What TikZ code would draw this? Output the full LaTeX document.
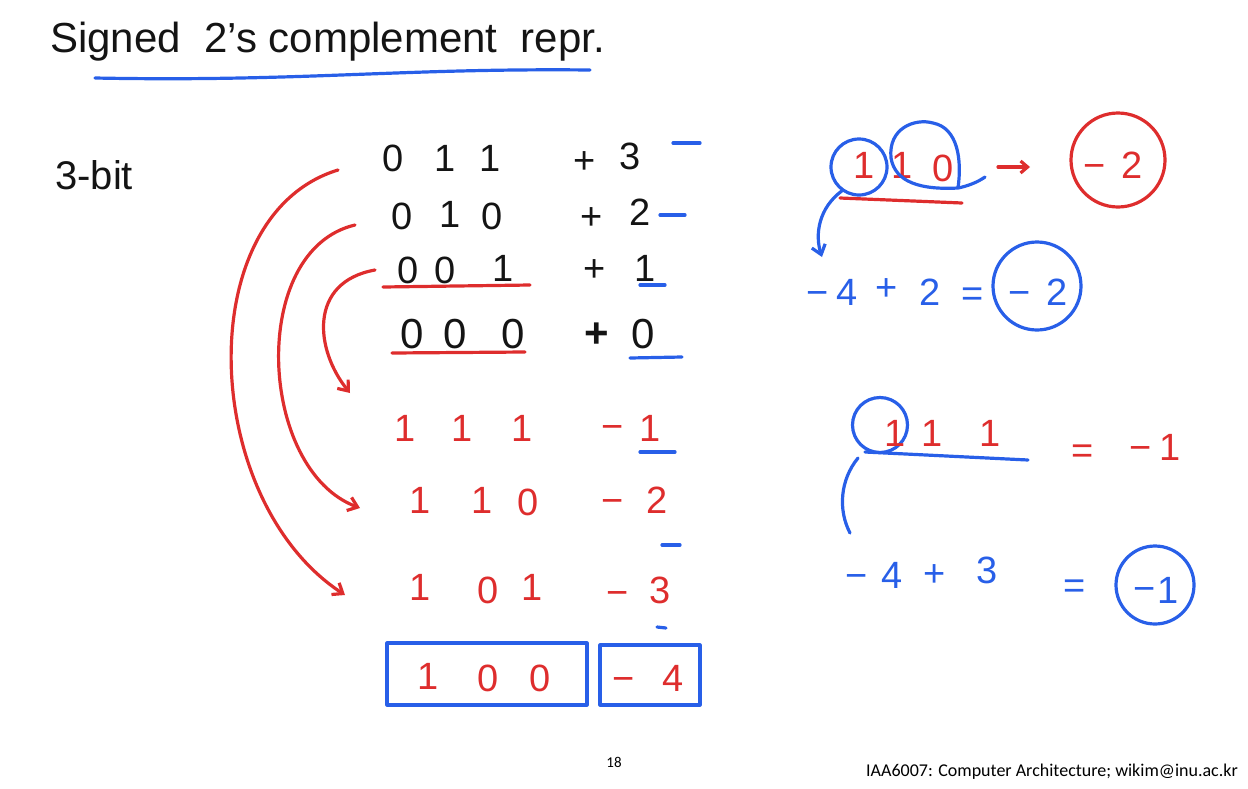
\documentclass[tikz,border=0pt]{standalone}
\usepackage{fontspec}
\setmainfont{Liberation Sans}
\newfontfamily\footfont{Carlito}
\usetikzlibrary{arrows.meta}
\definecolor{pen}{RGB}{20,20,20}
\definecolor{penred}{RGB}{222,45,45}
\definecolor{penblue}{RGB}{40,95,232}
\tikzset{
  hand/.style={line width=3.2pt, line cap=round, line join=round},
  glyph/.style={font=\fontsize{38}{38}\selectfont, inner sep=0pt, text height=27pt, text depth=0pt},
  bigglyph/.style={font=\fontsize{42}{42}\selectfont, inner sep=0pt, text height=30pt, text depth=0pt},
  bk/.style={glyph, text=pen},
  rd/.style={glyph, text=penred},
  bl/.style={glyph, text=penblue},
  ring/.style={hand, draw=penblue, circle, inner sep=0pt},
  tip/.style={-{Straight Barb[length=9pt,width=14pt]}},
}
\begin{document}
\begin{tikzpicture}[x=1pt,y=-1pt]
\useasboundingbox (0,0) rectangle (1248,788);
% title
\node[font=\fontsize{42}{42}\selectfont, text=pen, anchor=west, inner sep=0pt] (title) at (50,42) {Signed\ \ 2's complement\ \ repr.};
\draw[hand, penblue] (95,78) .. controls (300,82) and (400,68) .. (590,70);
\node[font=\fontsize{40}{40}\selectfont, text=pen, anchor=west, inner sep=0pt] (bits) at (55,175) {3-bit};
% black rows
\node[bk] (a1) at (393,158) {0}; \node[bk] (a2) at (445,158) {1}; \node[bk] (a3) at (490,158) {1};
\node[bk] (as) at (585,160) {+}; \node[bk] (av) at (630,156) {3};
\node[bk] (b1) at (402,216) {0}; \node[bk] (b2) at (450,214) {1}; \node[bk] (b3) at (492,216) {0};
\node[bk] (bs) at (592,216) {+}; \node[bk] (bv) at (640,212) {2};
\node[bk] (c1) at (408,270) {0}; \node[bk] (c2) at (445,270) {0}; \node[bk] (c3) at (503,268) {1};
\node[bk] (cs) at (595,268) {+}; \node[bk] (cv) at (645,268) {1};
\node[bk, bigglyph] (d1) at (412,333) {0}; \node[bk, bigglyph] (d2) at (455,333) {0}; \node[bk, bigglyph] (d3) at (513,333) {0};
\node[bk, bigglyph, font=\fontsize{42}{42}\selectfont\bfseries] (ds) at (597,332) {+}; \node[bk, bigglyph] (dv) at (643,333) {0};
% blue ticks and underlines
\draw[hand, penblue] (673,143) -- (700,143);
\draw[hand, penblue] (660,215) -- (685,215);
\draw[hand, penblue] (640,285) -- (665,285);
\draw[hand, penblue] (630,358) -- (682,357);
\draw[hand, penred] (383,287) -- (530,285);
\draw[hand, penred] (392,353) -- (525,352);
% red rows
\node[rd] (e1) at (405,428) {1}; \node[rd] (e2) at (462,428) {1}; \node[rd] (e3) at (522,428) {1};
\node[rd] (es) at (613,426) {−}; \node[rd] (ev) at (650,428) {1};
\node[rd] (f1) at (420,500) {1}; \node[rd] (f2) at (482,500) {1}; \node[rd] (f3) at (528,502) {0};
\node[rd] (fs) at (613,500) {−}; \node[rd] (fv) at (657,500) {2};
\node[rd] (g1) at (420,587) {1}; \node[rd] (g2) at (488,590) {0}; \node[rd] (g3) at (532,587) {1};
\node[rd] (gs) at (618,592) {−}; \node[rd] (gv) at (660,590) {3};
\draw[hand, penblue] (640,452) -- (675,452);
\draw[hand, penblue] (662,545) -- (680,545);
\draw[hand, penblue] (657,627) -- (666,628);
% boxed last row
\node[hand, draw=penblue, minimum width=200pt, minimum height=62pt, inner sep=0pt] (box1) at (487,674) {};
\node[rd] (h1) at (428,676) {1}; \node[rd] (h2) at (488,678) {0}; \node[rd] (h3) at (540,678) {0};
\node[hand, draw=penblue, minimum width=100pt, minimum height=60pt, inner sep=0pt] (box2) at (650,675) {};
\node[rd] (hs) at (624,678) {−}; \node[rd] (hv) at (673,678) {4};
% red curved arrows
\coordinate (s1) at (338,170); \coordinate (t1) at (345,595);
\coordinate (s2) at (355,225); \coordinate (t2) at (360,508);
\coordinate (s3) at (375,270); \coordinate (t3) at (350,393);
\draw[hand, penred, tip] (s1) .. controls (190,215) and (200,500) .. (t1);
\draw[hand, penred, tip] (s2) .. controls (248,250) and (258,470) .. (t2);
\draw[hand, penred, tip] (s3) .. controls (308,282) and (315,350) .. (t3);
% right top example
\node[ring, minimum size=56pt] (cA) at (859,167) {};
\node[rd] (p1) at (864,165) {1}; \node[rd] (p2) at (902,165) {1}; \node[rd] (p3) at (943,168) {0};
\draw[hand, penblue] (958,188) .. controls (920,190) and (895,182) .. (891,158) .. controls (888,128) and (915,118) .. (933,123) .. controls (958,128) and (962,160) .. (958,188) .. controls (968,186) and (978,182) .. (985,177);
\draw[hand, penred] (840,198) -- (962,203);
\coordinate (ar1) at (998,167); \coordinate (ar2) at (1030,167);
\draw[hand, penred, -{Straight Barb[length=7pt,width=12pt]}] (ar1) -- (ar2);
\node[hand, draw=penred, circle, minimum size=94pt, inner sep=0pt] (cB) at (1118,160) {};
\node[rd] (m2s) at (1095,165) {−}; \node[rd] (m2a) at (1132,165) {2};
\coordinate (u1) at (843,190); \coordinate (u2) at (822,257);
\draw[hand, penblue, tip] (u1) .. controls (818,208) and (815,235) .. (u2);
\node[bl] (k1) at (818,292) {−}; \node[bl] (k2) at (847,292) {4}; \node[bl] (k3) at (887,287) {+};
\node[bl] (k4) at (930,292) {2}; \node[bl] (k5) at (973,293) {=};
\node[ring, minimum size=88pt] (cC) at (1037,286) {};
\node[bl] (k6) at (1020,292) {−}; \node[bl] (k7) at (1057,292) {2};
% right bottom example
\node[ring, minimum size=55pt] (cD) at (880,425) {};
\node[rd] (q1) at (895,433) {1}; \node[rd] (q2) at (932,433) {1}; \node[rd] (q3) at (990,433) {1};
\draw[hand, penblue] (865,452) -- (1028,460);
\node[rd] (q4) at (1083,450) {=}; \node[rd] (q5) at (1141,447) {−}; \node[rd] (q6) at (1170,447) {1};
\coordinate (v1) at (858,458); \coordinate (v2) at (850,533);
\draw[hand, penblue] (v1) .. controls (840,480) and (838,510) .. (v2);
\node[bl] (w1) at (857,575) {−}; \node[bl] (w2) at (892,575) {4}; \node[bl] (w3) at (935,573) {+}; \node[bl] (w4) at (987,570) {3};
\node[bl] (w5) at (1075,585) {=};
\node[ring, minimum size=78pt] (cE) at (1155,585) {};
\node[bl] (w6) at (1145,588) {−}; \node[bl] (w7) at (1168,590) {1};
% footer
\node[font=\footfont\fontsize{15}{15}\selectfont, inner sep=0pt] (pg) at (614,762) {18};
\node[font=\footfont\fontsize{18}{18}\selectfont, anchor=east, inner sep=0pt] (ft) at (1238,772) {IAA6007: Computer Architecture; wikim@inu.ac.kr};
\end{tikzpicture}
\end{document}
